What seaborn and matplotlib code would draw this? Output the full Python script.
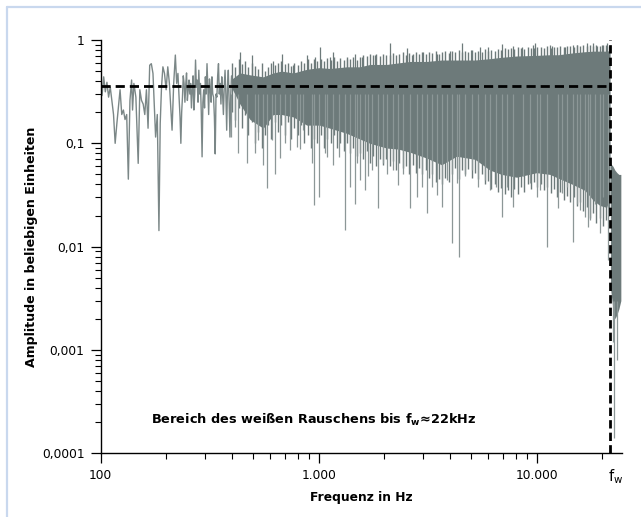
import numpy as np
import pandas as pd
import matplotlib
matplotlib.use("Agg")
import matplotlib.pyplot as plt
import seaborn as sns
from matplotlib.lines import Line2D
from matplotlib.ticker import LogLocator, NullFormatter

# ---------------- data ----------------
# resolved low-frequency part of the spectrum (Hz, amplitude)
low_freq = [100, 101.4, 103.2, 105.0, 106.8, 108.7, 110.6, 112.5, 114.5, 116.5,
            118.6, 120.6, 122.7, 124.9, 127.1, 129.3, 131.6, 133.9, 136.2, 138.6,
            140.0, 142.0, 145.0, 148.6, 151.2, 153.9, 156.6, 159.3, 162.1, 164.9,
            167.8, 170.7, 173.7, 175.5, 178.6, 181.8, 185.0, 187.5, 190.1, 192.9,
            196.2, 199.6, 203.1, 206.6, 212.5, 216.2, 220.0, 223.1, 226.1, 229.2,
            231.2, 233.2, 235.2, 237.2, 239.2, 241.3, 243.4, 245.5, 247.6, 249.8,
            252.0, 254.2, 256.3, 258.5, 260.8, 263.1, 265.3, 267.6, 270.0, 272.3,
            274.7, 277.1, 279.5, 281.9, 284.3, 286.8, 289.3, 291.8, 294.3, 296.9,
            299.5, 302.1, 304.7, 307.4, 310.1, 312.8, 315.5, 318.2, 321.0, 323.8,
            326.6, 329.4, 332.3, 335.2, 338.1, 341.1, 344.0, 347.0, 350.0, 353.1,
            356.1, 359.2, 362.3, 365.5, 368.7, 371.9, 375.1, 378.4, 381.7, 385.0,
            388.3, 391.7, 395.0, 398.4]
low_amp = [0.41, 0.29, 0.44, 0.315, 0.39, 0.28, 0.35, 0.26, 0.19, 0.10,
           0.155, 0.225, 0.33, 0.19, 0.21, 0.17, 0.19, 0.045, 0.26, 0.41,
           0.21, 0.38, 0.28, 0.064, 0.33, 0.26, 0.24, 0.19, 0.33, 0.14,
           0.57, 0.59, 0.475, 0.28, 0.115, 0.19, 0.0143, 0.155, 0.35, 0.55,
           0.475, 0.33, 0.55, 0.38, 0.134, 0.38, 0.715, 0.38, 0.475, 0.26,
           0.18, 0.10, 0.20, 0.28, 0.45, 0.38, 0.25, 0.366, 0.48, 0.26,
           0.33, 0.41, 0.30, 0.38, 0.22, 0.33, 0.45, 0.21, 0.30, 0.64,
           0.35, 0.41, 0.25, 0.51, 0.30, 0.38, 0.20, 0.074, 0.25, 0.33,
           0.22, 0.44, 0.30, 0.59, 0.35, 0.19, 0.42, 0.35, 0.25, 0.44,
           0.30, 0.28, 0.18, 0.079, 0.30, 0.28, 0.45, 0.59, 0.30, 0.38,
           0.24, 0.44, 0.30, 0.19, 0.35, 0.51, 0.30, 0.134, 0.35, 0.51,
           0.25, 0.115, 0.30, 0.45]

# dense part: core envelope of the noise band
band_freq = [400, 435, 484, 557, 619, 676, 765, 881, 1007, 1127,
             1344, 1546, 1719, 2050, 2319, 2624, 3129, 3664, 4292, 5212,
             6106, 6906, 8091, 10000, 11510, 12570, 14620, 16660, 18200, 19510,
             20940, 21690]
band_hi = [0.42, 0.48, 0.46, 0.44, 0.48, 0.50, 0.48, 0.52, 0.54, 0.53,
           0.55, 0.55, 0.58, 0.58, 0.60, 0.62, 0.62, 0.64, 0.64, 0.64,
           0.66, 0.68, 0.70, 0.71, 0.72, 0.72, 0.75, 0.77, 0.78, 0.78,
           0.78, 0.79]
band_lo = [0.34, 0.24, 0.17, 0.14, 0.19, 0.19, 0.18, 0.15, 0.15, 0.14,
           0.125, 0.11, 0.10, 0.09, 0.088, 0.082, 0.072, 0.062, 0.075, 0.07,
           0.055, 0.05, 0.047, 0.052, 0.05, 0.046, 0.04, 0.035, 0.028, 0.025,
           0.024, 0.03]

# fine structure of the band: lower and upper tips of the dense lines
tex_freq = [400, 414, 429, 444, 460, 476, 493,
            510, 528, 547, 566, 586, 607, 628, 650,
            673, 697, 722, 747, 774, 801, 829, 858,
            889, 920, 952, 986, 1021, 1057, 1094,
            1133, 1173, 1214, 1257, 1301, 1347, 1395, 1444, 1495,
            1548, 1602, 1659, 1717, 1778, 1841, 1906, 1973, 2043,
            2115, 2189, 2267, 2347, 2430, 2515, 2604, 2696, 2791, 2890,
            2992, 3098, 3207, 3320, 3437, 3559, 3684, 3814, 3949,
            4088, 4233, 4382, 4537, 4697, 4863, 5034, 5212,
            5396, 5587, 5784, 5988, 6199, 6418, 6645, 6879, 7122,
            7374, 7634, 7903, 8182, 8471, 8770, 9080, 9400, 9732, 10076,
            10431, 10800, 11181, 11576, 11984, 12407, 12845, 13299, 13768,
            14254, 14757, 15278, 15817, 16375, 16953, 17552, 18171, 18812, 19476,
            20164, 20875, 21450]
tex_lo = [0.2, 0.17, 0.22, 0.14, 0.19, 0.12, 0.16,
          0.1, 0.13, 0.09, 0.12, 0.15, 0.11, 0.16, 0.13,
          0.15, 0.12, 0.16, 0.11, 0.14, 0.12, 0.15, 0.1,
          0.12, 0.09, 0.11, 0.1, 0.12, 0.09, 0.11,
          0.1, 0.12, 0.09, 0.1, 0.085, 0.1, 0.08, 0.09, 0.075,
          0.08, 0.07, 0.085, 0.065, 0.075, 0.06, 0.07, 0.062, 0.07,
          0.06, 0.068, 0.055, 0.065, 0.058, 0.06, 0.05, 0.062, 0.052, 0.058,
          0.05, 0.055, 0.046, 0.05, 0.042, 0.045, 0.04, 0.046, 0.042,
          0.05, 0.058, 0.045, 0.055, 0.05, 0.056, 0.046, 0.052,
          0.045, 0.05, 0.04, 0.043, 0.036, 0.04, 0.034, 0.037, 0.032,
          0.035, 0.03, 0.036, 0.032, 0.038, 0.034, 0.04, 0.036, 0.042, 0.038,
          0.04, 0.035, 0.038, 0.033, 0.036, 0.03, 0.034, 0.028, 0.031,
          0.027, 0.03, 0.025, 0.027, 0.022, 0.024, 0.019, 0.021, 0.017, 0.019,
          0.016, 0.018, 0.02]
tex_hi = [0.6, 0.55, 0.65, 0.58, 0.62, 0.55, 0.6,
          0.56, 0.52, 0.6, 0.5, 0.55, 0.6, 0.57, 0.6,
          0.62, 0.58, 0.6, 0.56, 0.6, 0.57, 0.62, 0.6,
          0.65, 0.6, 0.66, 0.62, 0.66, 0.63, 0.67,
          0.64, 0.68, 0.63, 0.67, 0.64, 0.69, 0.65, 0.68, 0.64,
          0.68, 0.72, 0.7, 0.74, 0.71, 0.73, 0.7, 0.74, 0.72,
          0.71, 0.75, 0.72, 0.74, 0.76, 0.72, 0.75, 0.73, 0.77, 0.74,
          0.76, 0.73, 0.77, 0.75, 0.78, 0.74, 0.77, 0.79, 0.75,
          0.78, 0.76, 0.8, 0.77, 0.79, 0.76, 0.8, 0.77,
          0.79, 0.77, 0.81, 0.78, 0.8, 0.78, 0.82, 0.8, 0.83,
          0.81, 0.84, 0.82, 0.85, 0.83, 0.82, 0.86, 0.84, 0.83, 0.86,
          0.85, 0.83, 0.87, 0.84, 0.86, 0.85, 0.88, 0.86, 0.87,
          0.88, 0.86, 0.89, 0.87, 0.9, 0.88, 0.9, 0.87, 0.9, 0.88,
          0.9, 0.89, 0.88]

# single deep downward dips below the band
dip_freq = [395, 415, 428, 467, 510, 527, 557, 577, 608, 630,
            664, 700, 738, 793, 821, 850, 929, 951, 1007, 1070,
            1089, 1167, 1243, 1321, 1392, 1468, 1494, 1546, 1630, 1690,
            1750, 1877, 1980, 2050, 2190, 2319, 2445, 2624, 2816, 2970,
            3129, 3298, 3476, 3664, 3860, 4071, 4292, 4416, 4690, 5030,
            5398, 5790, 6106, 6530, 6906, 7280, 7814, 8680, 9310, 10000,
            10360, 11190, 12570, 13030, 13740, 14620, 15270, 15820, 16660, 17250,
            17600, 18540, 19510, 20220, 21200]
dip_amp = [0.116, 0.145, 0.080, 0.064, 0.08, 0.108, 0.062, 0.037, 0.108, 0.051,
           0.072, 0.1, 0.086, 0.093, 0.089, 0.135, 0.064, 0.0252, 0.0305, 0.08,
           0.074, 0.062, 0.074, 0.0145, 0.038, 0.026, 0.064, 0.044, 0.035, 0.048,
           0.055, 0.0235, 0.064, 0.051, 0.055, 0.0396, 0.051, 0.0235, 0.0305, 0.038,
           0.021, 0.038, 0.0316, 0.0243, 0.044, 0.0108, 0.041, 0.008, 0.048, 0.055,
           0.038, 0.044, 0.0354, 0.038, 0.0195, 0.038, 0.0243, 0.048, 0.041, 0.0305,
           0.0354, 0.010, 0.0235, 0.033, 0.038, 0.0112, 0.026, 0.0227, 0.0195, 0.0156,
           0.018, 0.026, 0.0135, 0.0305, 0.0075]

# single tall upward peaks above the band
peak_freq = [435, 493, 619, 676, 765, 881, 961, 1014, 1127, 1167,
             1344, 1468, 1574, 1812, 2123, 2533, 2671, 3000, 3500, 4000,
             4525, 5000, 5495, 5998, 6906, 7780, 8600, 9580, 9820, 11510,
             11800, 13500, 14620, 15300, 16950, 18200, 19000, 20000, 20940]
peak_amp = [0.77, 0.72, 0.62, 0.74, 0.57, 0.72, 0.69, 0.86, 0.69, 0.77,
            0.66, 0.74, 0.69, 0.72, 0.93, 0.83, 0.72, 0.76, 0.74, 0.78,
            0.93, 0.80, 0.86, 0.86, 0.92, 0.87, 0.85, 0.90, 0.93, 0.89,
            0.87, 0.86, 0.90, 0.90, 0.93, 0.93, 0.88, 0.90, 0.93]

# region above the cut-off frequency
cut_freq = [21800, 22380, 22850, 23340, 23830, 24330]
cut_hi = [0.064, 0.06, 0.055, 0.052, 0.05, 0.05]
cut_lo = [0.004, 0.0025, 0.002, 0.0022, 0.0025, 0.003]
cut_dip_freq = [22300, 22700, 23300]
cut_dip_amp = [0.0012, 0.00014, 0.0008]

white_level = 0.355
f_w = 21700
x_limits = (100, 24550)
y_limits = (1e-4, 1.0)
x_ticks = [100, 1000, 10000]
x_tick_labels = ["100", "1.000", "10.000"]
y_ticks = [1e-4, 1e-3, 1e-2, 1e-1, 1]
y_tick_labels = ["0,0001", "0,001", "0,01", "0,1", "1"]

# ---------------- style ----------------
sns.set_style("ticks")
plt.rcParams["font.family"] = ["DejaVu Sans"]
plt.rcParams["mathtext.fontset"] = "dejavusans"
plt.rcParams["text.color"] = "black"
plt.rcParams["axes.labelcolor"] = "black"
plt.rcParams["xtick.color"] = "black"
plt.rcParams["ytick.color"] = "black"

GREY = "#6d7a7a"
LIGHT = "#8c9797"

fig = plt.figure(figsize=(6.41, 5.17), dpi=100)
ax = fig.add_axes([100.7 / 641, 1 - 453.3 / 517, 521 / 641, 413.3 / 517])
ax.set_xscale("log")
ax.set_yscale("log")

# dense noise band
ax.fill_between(band_freq, band_lo, band_hi, color=GREY, lw=0)
ax.vlines(tex_freq, tex_lo, tex_hi, color=GREY, lw=1.0)
ax.vlines(dip_freq, dip_amp, 0.3, color=LIGHT, lw=0.9)
ax.vlines(peak_freq, 0.45, peak_amp, color=GREY, lw=0.9)

# resolved low-frequency line
low_df = pd.DataFrame({"f": low_freq, "a": low_amp})
sns.lineplot(data=low_df, x="f", y="a", ax=ax, color="#7b8787", lw=1.0,
             sort=False, estimator=None)

# above cut-off
ax.fill_between(cut_freq, cut_lo, cut_hi, color=GREY, lw=0)
ax.vlines(cut_dip_freq, cut_dip_amp, 0.003, color=LIGHT, lw=0.9)

# dashed guides
ax.plot([x_limits[0], f_w], [white_level, white_level], color="black",
        lw=2.0, dashes=(3.3, 1.8), solid_capstyle="butt")
ax.plot([f_w, f_w], [y_limits[0], y_limits[1]], color="black",
        lw=2.0, dashes=(3.0, 1.5), clip_on=False)

ax.set_xlim(*x_limits)
ax.set_ylim(*y_limits)

ax.set_xticks(x_ticks)
ax.set_xticklabels(x_tick_labels)
ax.set_yticks(y_ticks)
ax.set_yticklabels(y_tick_labels)
ax.xaxis.set_minor_locator(LogLocator(base=10, subs=np.arange(2, 10)))
ax.yaxis.set_minor_locator(LogLocator(base=10, subs=np.arange(2, 10)))
ax.xaxis.set_minor_formatter(NullFormatter())
ax.yaxis.set_minor_formatter(NullFormatter())
ax.tick_params(which="major", length=7.2, width=0.9, direction="out",
               labelsize=8.8, pad=4.4, color="black")
ax.tick_params(which="minor", length=4.3, width=0.8, direction="out", color="black")

sns.despine(ax=ax)
for s in ["left", "bottom"]:
    ax.spines[s].set_linewidth(1.0)
    ax.spines[s].set_color("black")

ax.set_xlabel("Frequenz in Hz", fontsize=8.8, fontweight="bold", labelpad=6)
ax.set_ylabel("Amplitude in beliebigen Einheiten", fontsize=9.1,
              fontweight="bold", labelpad=3)

ax.annotate(r"$\mathregular{f_w}$", xy=(f_w, 0), xycoords=("data", "axes fraction"),
            xytext=(4, -17), textcoords="offset points", ha="center", va="center",
            fontsize=10.5)

ax.text(0.0965, 0.0806,
        r"Bereich des weißen Rauschens bis $\mathbf{f}_\mathbf{w}$≈22kHz",
        transform=ax.transAxes, fontsize=9.3, fontweight="bold",
        ha="left", va="center")

# light blue frame of the picture
fig.add_artist(Line2D([6.5 / 641, 1.0], [1 - 6.5 / 517, 1 - 6.5 / 517],
                      transform=fig.transFigure, color="#c9d8ee", lw=1.6))
fig.add_artist(Line2D([6.5 / 641, 6.5 / 641], [0, 1 - 6.5 / 517],
                      transform=fig.transFigure, color="#c9d8ee", lw=1.6))

fig.savefig("out.png", dpi=100)
